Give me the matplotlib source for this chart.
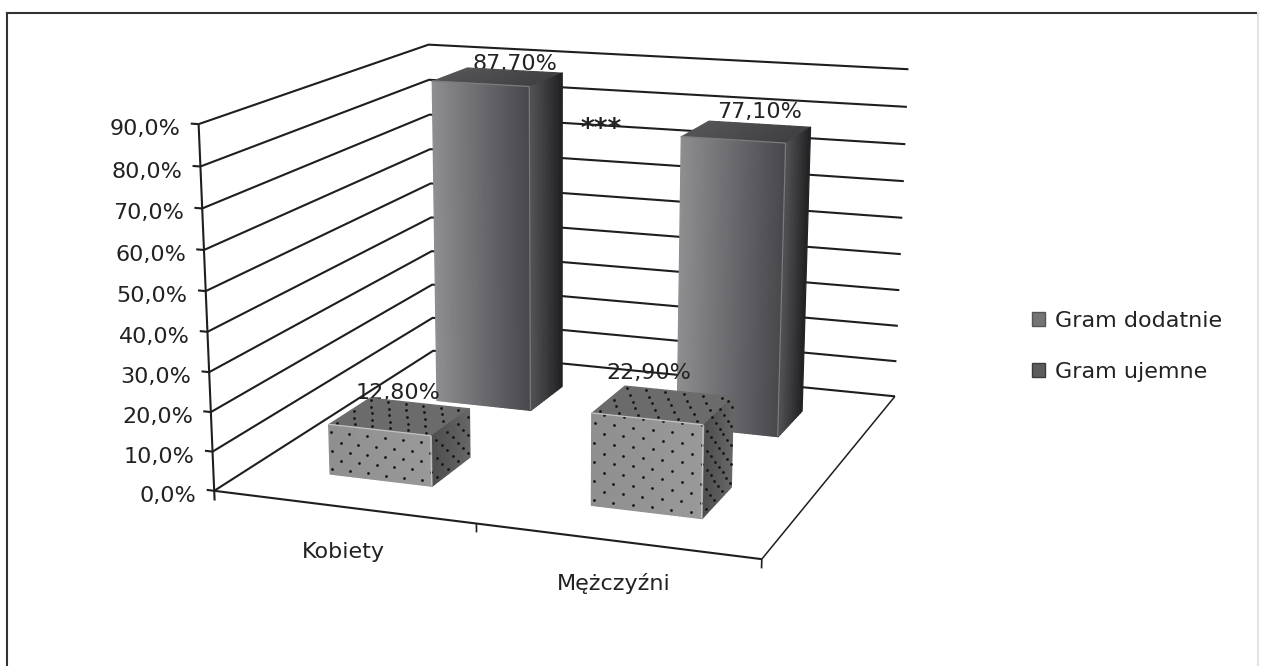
import numpy as np
import matplotlib
matplotlib.use("Agg")
import matplotlib.pyplot as plt
from matplotlib.lines import Line2D
from matplotlib.patches import Patch
from matplotlib.text import Text
from mpl_toolkits.mplot3d.art3d import Line3DCollection, Poly3DCollection

categories = ["Kobiety", "Mężczyźni"]
series_names = ["Gram dodatnie", "Gram ujemne"]
gram_dodatnie = [87.7, 77.1]
gram_ujemne = [12.8, 22.9]
z_ticks = [0, 10, 20, 30, 40, 50, 60, 70, 80, 90]

W, H = 1264, 666
LINE = "#1e1e1e"
TEXT = "#222222"
FONT = 16


def fx(px):
    return px / W


def fy(py):
    return 1 - py / H


def fit_camera():
    # the box corners of the chart: (x, y, z) -> where they sit in the picture
    world = np.array([
        (0, 0, 0), (2, 0, 0), (2, 2, 0), (0, 2, 0),
        (0, 0, 90), (0, 2, 90), (2, 2, 90),
        (0, 0, 40), (2, 2, 40),
    ], dtype=float)
    image = np.array([
        (215, 490), (762, 560), (895, 396), (432, 352),
        (197, 125), (430, 44), (908, 70),
        (208, 331), (901, 253),
    ], dtype=float)

    scale = np.diag([1, 1, 1 / 45, 1])
    rows = []
    for p, (u, v) in zip(world, image / 500):
        q = scale @ np.append(p, 1)
        rows.append(np.r_[q, 0, 0, 0, 0, -u * q])
        rows.append(np.r_[0, 0, 0, 0, q, -v * q])
    P = np.linalg.svd(np.array(rows))[2][-1].reshape(3, 4)
    P = np.diag([500, 500, 1]) @ P @ scale
    P = P / P[2, 3]
    return np.array([P[0], P[1], [0, 1, 0, 0], P[2]])


def to_pixel(x, y, z):
    u = camera @ np.array([x, y, z, 1.0])
    return u[0] / u[3], u[1] / u[3]


def lines(ax, segments, lw=1.5, color=LINE, zorder=1):
    ax.add_collection3d(Line3DCollection(segments, colors=color, linewidths=lw, zorder=zorder))


def strips(ax, corners, left, right, zorder, n):
    # one face with a left to right gradient, each strip painted over the last
    a, b, c, d = [np.array(p, dtype=float) for p in corners]
    for i in range(n):
        t0, t1 = i / n, (i + 1) / n
        t = (i + 0.5) / n
        col = np.array(left) * (1 - t) + np.array(right) * t
        poly = [a + (b - a) * t0, a + (b - a) * t1, d + (c - d) * t1, d + (c - d) * t0]
        ax.add_collection3d(Poly3DCollection([poly], facecolors=[col], edgecolors=[col],
                                             linewidths=0.9, zorder=zorder))


def draw_bar(ax, xc, yc, h, style, zorder, width=0.4, depth=0.36):
    x0, x1 = xc - width / 2, xc + width / 2
    y0, y1 = yc - depth / 2, yc + depth / 2

    strips(ax, [(x0, y0, h), (x1, y0, h), (x1, y1, h), (x0, y1, h)],
           style["top"][0], style["top"][1], zorder, 10)
    strips(ax, [(x1, y0, 0), (x1, y1, 0), (x1, y1, h), (x1, y0, h)],
           style["side"][0], style["side"][1], zorder, 12)
    strips(ax, [(x0, y0, 0), (x1, y0, 0), (x1, y0, h), (x0, y0, h)],
           style["front"][0], style["front"][1], zorder, 40)

    lines(ax, [[(x1, y0, 0), (x1, y0, h)], [(x0, y0, h), (x1, y0, h)]], lw=0.9,
          color=style["edge"], zorder=zorder + 0.2)

    if not style["dots"]:
        return

    dx, dy, dz = 0.07, 0.1, 2.4
    xs, ys, zs = [], [], []
    for i, z in enumerate(np.arange(dz / 2, h, dz)):
        for x in np.arange(x0 + 0.012 + (i % 2) * dx / 2, x1, dx):
            xs.append(x), ys.append(y0), zs.append(z)
        for y in np.arange(y0 + 0.05 + (i % 2) * dy / 2, y1, dy):
            xs.append(x1), ys.append(y), zs.append(z)
    for i, y in enumerate(np.arange(y0 + 0.03, y1, 0.075)):
        for x in np.arange(x0 + 0.02 + (i % 2) * dx / 2, x1, dx):
            xs.append(x), ys.append(y), zs.append(h)
    ax.scatter(xs, ys, zs, s=4, c="#151515", linewidths=0, depthshade=False,
               zorder=zorder + 0.1)


def pixel_text(ax, px, py, s, zorder=2, **kw):
    # plain 2D text in figure space, still ordered with the bars of this axes
    ax.add_artist(Text(fx(px), fy(py), s, transform=fig.transFigure, fontsize=FONT, color=TEXT,
                       zorder=zorder, clip_on=False, **kw))


fig = plt.figure(figsize=(W / 100, H / 100), dpi=100, facecolor="white")

# square axes wider than the figure so that one view unit is one pixel
ax = fig.add_axes([0, 0.5 - W / H / 2, 1, W / H], projection="3d", proj_type="ortho",
                  computed_zorder=False)
ax.set_axis_off()
ax.patch.set_visible(False)
ax.set_xlim(0, 2)
ax.set_ylim(0, 2)
ax.set_zlim(0, 90)
camera = fit_camera()
ax.get_proj = lambda: camera
ax.viewLim.intervalx = (0, W)
ax.viewLim.intervaly = (H / 2 + W / 2, H / 2 - W / 2)

# walls
lines(ax, [[(0, 0, z), (0, 2, z), (2, 2, z)] for z in z_ticks])
lines(ax, [[(-0.03, 0, z), (0, 0, z)] for z in z_ticks])
lines(ax, [[(0, 0, -2.5), (0, 0, 90)]])
for z in z_ticks:
    tick_x, tick_y = to_pixel(0, 0, z)
    pixel_text(ax, tick_x - 18, tick_y + 5, f"{z:.1f}%".replace(".", ","), ha="right", va="center")

# floor
lines(ax, [[(0, 0, 0), (2, 0, 0)]])
lines(ax, [[(2, 0, 0), (2, 2, 0)]], lw=1.1)
lines(ax, [[(x, 0, 0), (x, 0, -2.2)] for x in [1, 2]], lw=1.2)

back_style = {
    "front": [(0.56, 0.56, 0.57), (0.28, 0.28, 0.30)],
    "side": [(0.33, 0.33, 0.34), (0.13, 0.13, 0.14)],
    "top": [(0.33, 0.33, 0.34), (0.25, 0.25, 0.26)],
    "edge": "#7c7c7c",
    "dots": False,
}
front_style = {
    "front": [(0.56, 0.56, 0.56), (0.6, 0.6, 0.6)],
    "side": [(0.3, 0.3, 0.3), (0.4, 0.4, 0.4)],
    "top": [(0.42, 0.42, 0.42), (0.42, 0.42, 0.42)],
    "edge": "#c4c4c4",
    "dots": True,
}

back_offset = [(1, -6), (1, -12)]
front_offset = [(-21, -10), (-29, -18)]

for i, (pos, neg) in enumerate(zip(gram_dodatnie, gram_ujemne)):
    xc = i + 0.5
    draw_bar(ax, xc, 1.5, pos, back_style, 4 + i)
    draw_bar(ax, xc, 0.5, neg, front_style, 8 + i)

    px, py = to_pixel(xc, 1.68, pos)
    pixel_text(ax, px + back_offset[i][0], py + back_offset[i][1],
               f"{pos:.2f}%".replace(".", ","), ha="center", va="center", zorder=3)
    px, py = to_pixel(xc, 0.68, neg)
    pixel_text(ax, px + front_offset[i][0], py + front_offset[i][1],
               f"{neg:.2f}%".replace(".", ","), ha="center", va="center", zorder=7)

fig.text(fx(343), fy(552), categories[0], ha="center", va="center", fontsize=FONT, color=TEXT)
fig.text(fx(614), fy(583), categories[1], ha="center", va="center", fontsize=FONT, color=TEXT)
fig.text(fx(601), fy(130), "***", ha="center", va="center", fontsize=19, fontweight="bold", color=TEXT)

handles = [Patch(facecolor="#747474", edgecolor="#555555"),
           Patch(facecolor="#5c5c5c", edgecolor="#3c3c3c")]
fig.legend(handles, series_names, loc="upper left", bbox_to_anchor=(fx(1014), fy(293)),
           frameon=False, fontsize=FONT, handlelength=0.6, handleheight=0.6,
           handletextpad=0.45, labelspacing=1.4, borderpad=0.3, labelcolor=TEXT)

# chart frame
fig.add_artist(Line2D([fx(7), fx(1258)], [fy(13), fy(13)], color="#333333", lw=1.5))
fig.add_artist(Line2D([fx(7), fx(7)], [fy(13), fy(666)], color="#333333", lw=1.5))
fig.add_artist(Line2D([fx(1258), fx(1258)], [fy(13), fy(666)], color="#e4e4e4", lw=1.5))

fig.savefig("out.png", dpi=100)
